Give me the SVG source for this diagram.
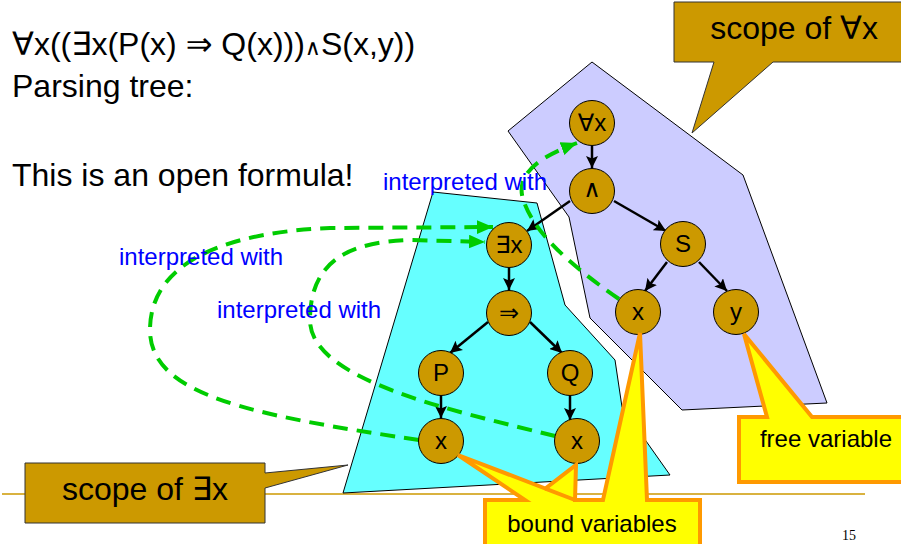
<svg xmlns="http://www.w3.org/2000/svg" width="901" height="544" viewBox="0 0 901 544">
<defs>
<style>
.big{font-family:"Liberation Sans","DejaVu Sans",sans-serif;font-size:32px;fill:#000}
.lbl{font-family:"Liberation Sans","DejaVu Sans",sans-serif;font-size:24px;fill:#0000FF}
.nt{font-family:"Liberation Sans","DejaVu Sans",sans-serif;font-size:24px;fill:#000;text-anchor:middle}
.ct{font-family:"Liberation Sans","DejaVu Sans",sans-serif;font-size:24px;fill:#000;text-anchor:middle}
.node{fill:#CC9900;stroke:#000;stroke-width:1}
.edge{stroke:#000;stroke-width:2.5;fill:none;marker-end:url(#ah)}
.green{stroke:#00CC00;stroke-width:4;fill:none;stroke-dasharray:15 9;marker-end:url(#gh)}
.gold{fill:#CC9900;stroke:#333;stroke-width:1}
.yel{fill:#FFFF00;stroke:#FF9900;stroke-width:4;stroke-linejoin:miter}
</style>
<marker id="ah" markerUnits="userSpaceOnUse" markerWidth="12" markerHeight="12" refX="10" refY="5" orient="auto" viewBox="0 0 10 10">
<path d="M0,0 L10,5 L0,10 L2,5 Z" fill="#000"/>
</marker>
<marker id="gh" markerUnits="userSpaceOnUse" markerWidth="16" markerHeight="14" refX="14" refY="6" orient="auto" viewBox="0 0 14 12">
<path d="M0,0 L14,6 L0,12 Z" fill="#00CC00"/>
</marker>
</defs>
<rect width="901" height="544" fill="#fff"/>

<line x1="2" y1="494" x2="865" y2="494" stroke="#CC9900" stroke-width="1.5"/>

<g id="scope-forall-region"><polygon points="592,62 508,131 569,217 590,318 682,410 827,403 743,175" fill="#CCCCFF" stroke="#000" stroke-width="1"/></g>
<g id="scope-exists-region"><polygon points="433,192 537,203 565,305 615,360 622,407 670,475 343,493" fill="#66FFFF" stroke="#000" stroke-width="1"/></g>

<text class="big" x="12" y="55">∀x((∃x(P(x) ⇒ Q(x)))<tspan font-size="22">∧</tspan>S(x,y))</text>
<text class="big" x="12" y="97">Parsing tree:</text>
<text class="big" x="12" y="186">This is an open formula!</text>

<g id="connectors">
<line class="edge" x1="592" y1="146" x2="592" y2="168"/>
<line class="edge" x1="570" y1="201" x2="527" y2="231"/>
<line class="edge" x1="614" y1="201" x2="666" y2="231"/>
<line class="edge" x1="509" y1="268" x2="509" y2="290"/>
<line class="edge" x1="488" y1="322" x2="450" y2="353"/>
<line class="edge" x1="530" y1="322" x2="562" y2="353"/>
<line class="edge" x1="667" y1="262" x2="645" y2="291"/>
<line class="edge" x1="699" y1="262" x2="727" y2="291"/>
<line class="edge" x1="441" y1="396" x2="441" y2="418"/>
<line class="edge" x1="570" y1="396" x2="570" y2="420"/>
<path class="green" d="M619,299 C570,265 530,230 522,195 C518,170 545,155 577,143"/>
<path class="green" d="M419,440 C250,415 150,395 150,330 C150,260 230,232 330,228 L493,227"/>
<path class="green" d="M555,436 C450,410 310,380 310,320 C310,260 350,242 410,240 L485,242"/>
</g>

<g id="n-forall"><circle class="node" cx="592" cy="123" r="22.5"/><text class="nt" x="592" y="131">∀x</text></g>
<g id="n-and"><circle class="node" cx="592" cy="191" r="22.5"/><text class="nt" x="592" y="197" font-size="17">∧</text></g>
<g id="n-exists"><circle class="node" cx="509" cy="245" r="22.5"/><text class="nt" x="509" y="253">∃x</text></g>
<g id="n-S"><circle class="node" cx="683" cy="244" r="22.5"/><text class="nt" x="683" y="252">S</text></g>
<g id="n-implies"><circle class="node" cx="509" cy="313" r="22.5"/><text class="nt" x="509" y="321">⇒</text></g>
<g id="n-Sx"><circle class="node" cx="638" cy="312" r="22.5"/><text class="nt" x="638" y="320">x</text></g>
<g id="n-y"><circle class="node" cx="736" cy="312" r="22.5"/><text class="nt" x="736" y="320">y</text></g>
<g id="n-P"><circle class="node" cx="441" cy="373" r="22.5"/><text class="nt" x="441" y="381">P</text></g>
<g id="n-Q"><circle class="node" cx="570" cy="373" r="22.5"/><text class="nt" x="570" y="381">Q</text></g>
<g id="n-Px"><circle class="node" cx="441" cy="441" r="22.5"/><text class="nt" x="441" y="449">x</text></g>
<g id="n-Qx"><circle class="node" cx="577" cy="441" r="22.5"/><text class="nt" x="577" y="449">x</text></g>

<text class="lbl" x="383" y="190">interpreted with</text>
<text class="lbl" x="119" y="265">interpreted with</text>
<text class="lbl" x="217" y="318">interpreted with</text>

<g id="callout-scope-forall">
<path class="gold" d="M674,2 H906 V62 H773 L692,133 L714,62 H674 Z"/>
<text class="big" x="794" y="39" text-anchor="middle">scope of ∀x</text>
</g>
<g id="callout-scope-exists">
<path class="gold" d="M25,463 H265 V473 L348,465 L265,488 V523 H25 Z"/>
<text class="big" x="145" y="500" text-anchor="middle">scope of ∃x</text>
</g>
<g id="callout-free">
<path class="yel" d="M739,417 H767 L744,334 L812,417 H906 V482 H739 Z"/>
<text class="ct" x="826" y="447">free variable</text>
</g>
<g id="callout-bound">
<path class="yel" d="M485,500 H525 L458,455 L545.4,488.6 L576,465 L575,500 H603 L640,333 L647,500 H700 V550 H485 Z"/>
<line x1="545.4" y1="488.6" x2="575" y2="500" stroke="#FF9900" stroke-width="4"/>
<text class="ct" x="592" y="532">bound variables</text>
</g>

<text x="842" y="540" font-family="Liberation Serif, serif" font-size="14" fill="#000">15</text>
</svg>
